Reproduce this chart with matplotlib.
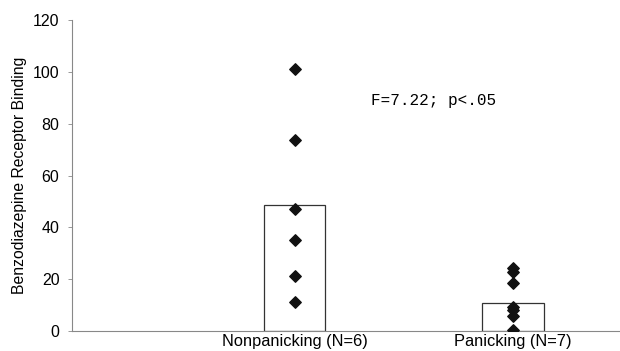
import matplotlib
matplotlib.use("Agg")
import matplotlib.pyplot as plt

categories = ["Nonpanicking (N=6)", "Panicking (N=7)"]
bar_means = [48.6, 10.7]
nonpanicking = [101.1, 73.8, 47.2, 35.1, 21.3, 11.3]
panicking = [24.4, 22.9, 18.5, 9.4, 8.1, 5.9, 0.4]
annotation = "F=7.22; p<.05"

plt.rcParams['font.family'] = ['Liberation Sans', 'DejaVu Sans']
fig = plt.figure(figsize=(6.2, 3.51), dpi=100)
ax = fig.add_axes([0.116, 0.057, 0.884, 0.886])

xs = [1, 2]
ax.bar(xs, bar_means, width=0.28, color='white', edgecolor='#333333', linewidth=0.9, zorder=1)
ax.scatter([1] * len(nonpanicking), nonpanicking, marker='D', s=34, color='#111111', zorder=3)
ax.scatter([2] * len(panicking), panicking, marker='D', s=34, color='#111111', zorder=3)

ax.set_xlim(-0.02, 2.49)
ax.set_ylim(0, 120)
ax.set_yticks(range(0, 121, 20))
ax.set_xticks(xs)
ax.set_xticklabels(categories, fontsize=11.8)
ax.tick_params(axis='x', length=0, pad=2)
ax.tick_params(axis='y', labelsize=11.5, length=3, width=0.6, color='#888888', pad=6)
for s in ['top', 'right']:
    ax.spines[s].set_visible(False)
for s in ['left', 'bottom']:
    ax.spines[s].set_color('#888888')
    ax.spines[s].set_linewidth(0.8)
ax.set_ylabel("Benzodiazepine Receptor Binding", fontsize=11.3, labelpad=4)
ax.text(1.35, 89, annotation, family='Liberation Mono', fontsize=11.5, va='center', ha='left')

fig.savefig("out.png", dpi=100)
